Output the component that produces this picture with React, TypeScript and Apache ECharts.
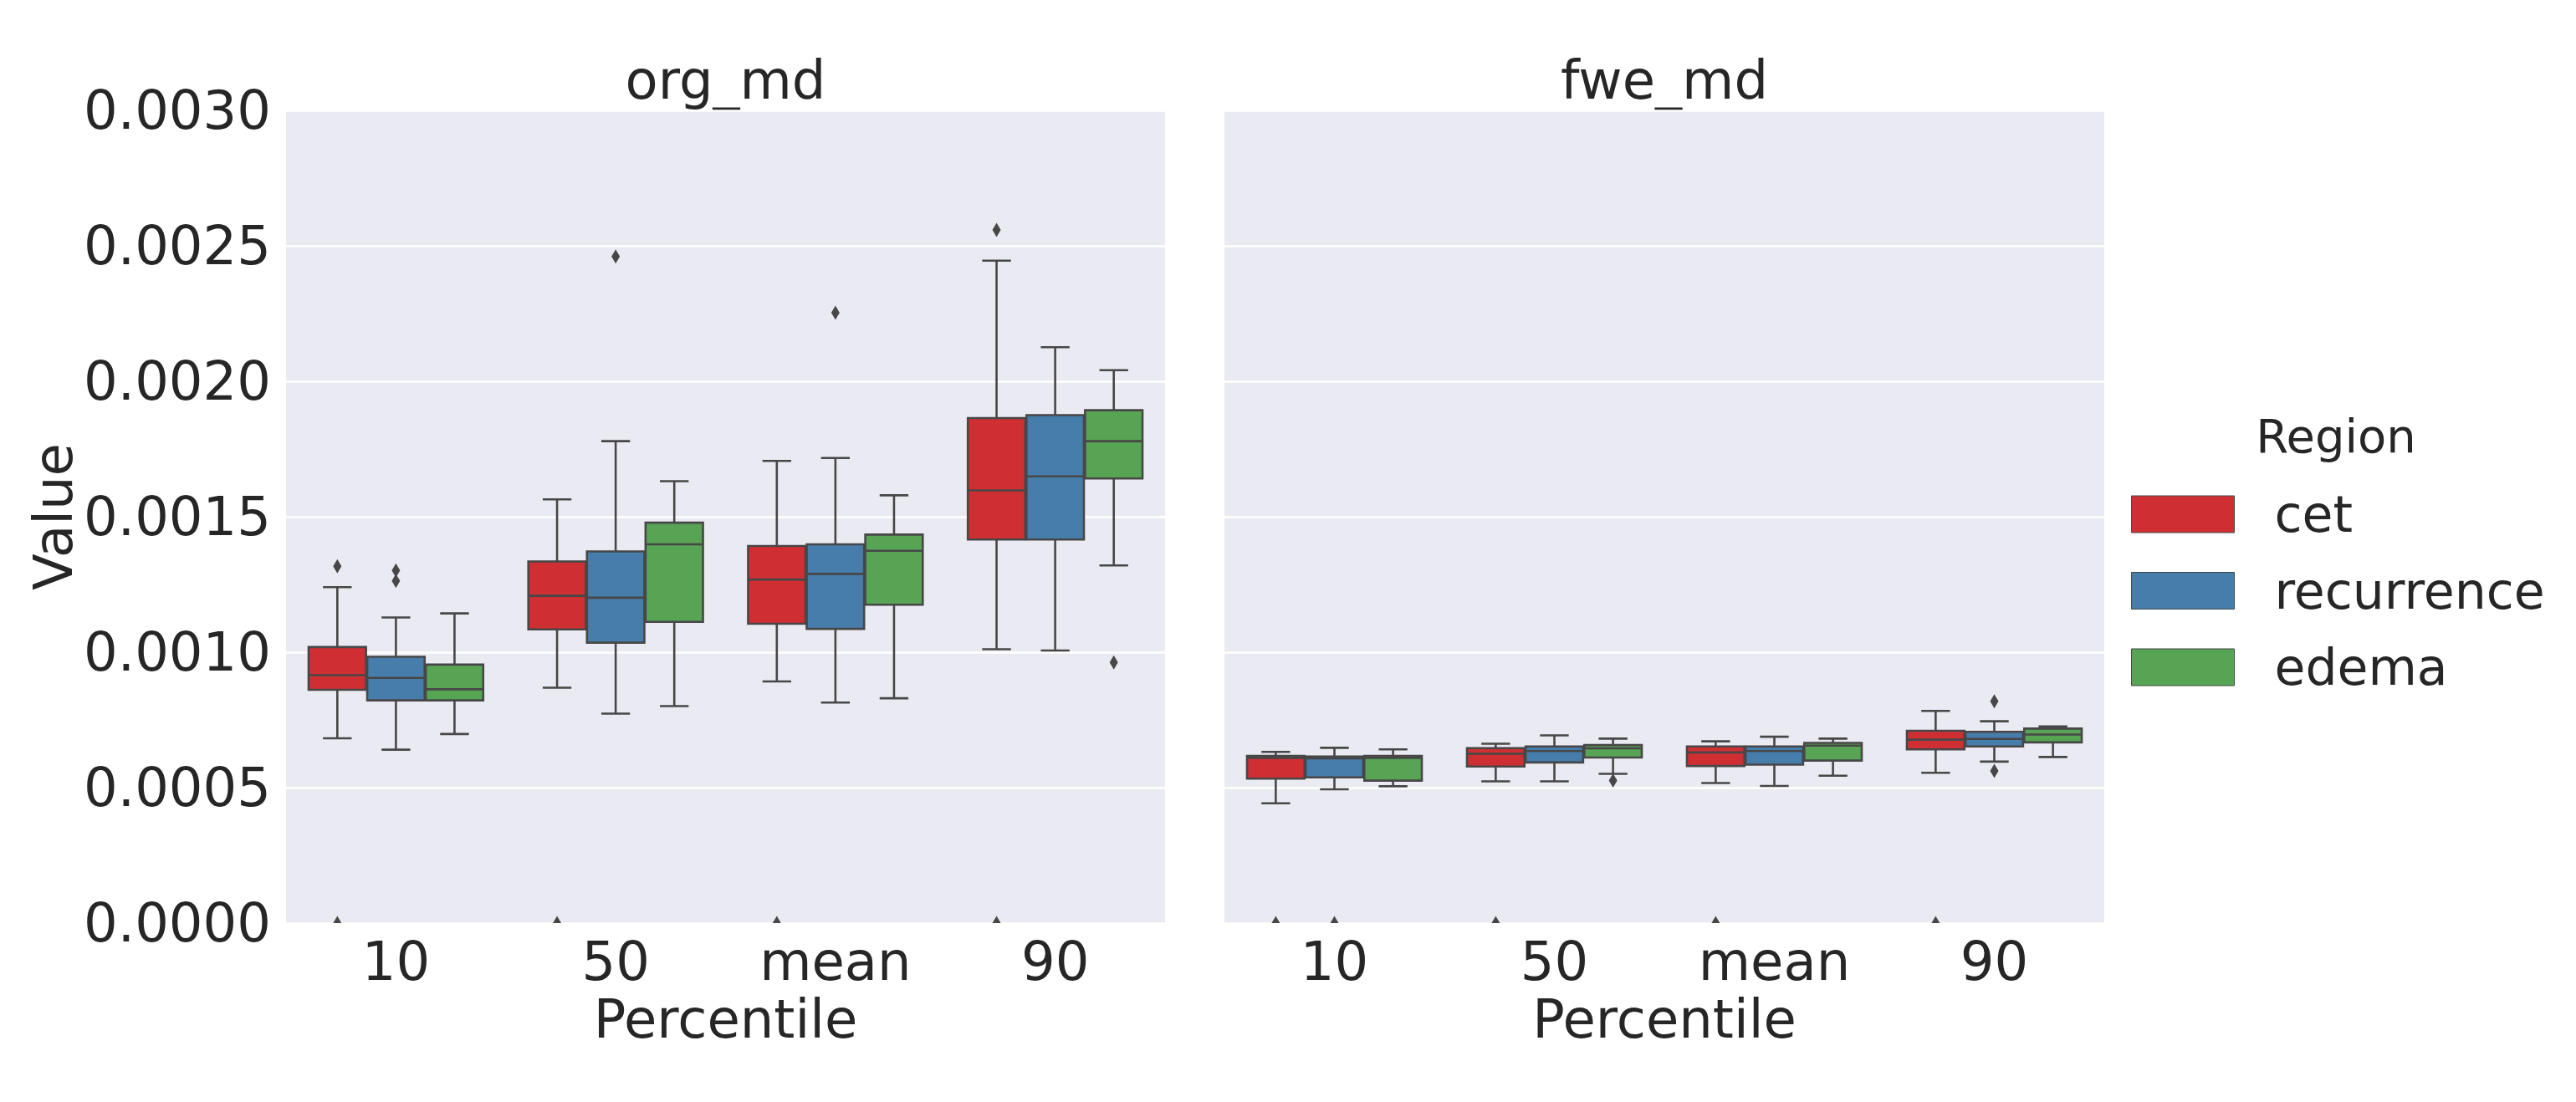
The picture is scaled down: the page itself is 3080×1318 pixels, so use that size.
import React, { useEffect, useRef } from 'react';
import * as echarts from 'echarts';

// ---------- data ----------
const categories = ['10', '50', 'mean', '90'];
const regions = ['cet', 'recurrence', 'edema'];
const regionColors = ['#cf2f33', '#467dab', '#57a455'];
const panelTitles = ['org_md', 'fwe_md'];

// org_md panel (per category: 10, 50, mean, 90)
const orgCetLow = [0.000682, 0.000869, 0.000892, 0.001011];
const orgCetQ1 = [0.000861, 0.001084, 0.001105, 0.001416];
const orgCetMed = [0.000915, 0.001208, 0.001268, 0.001597];
const orgCetQ3 = [0.001019, 0.001335, 0.001392, 0.001864];
const orgCetHigh = [0.00124, 0.001564, 0.001706, 0.002445];

const orgRecLow = [0.00064, 0.000773, 0.000814, 0.001006];
const orgRecQ1 = [0.000822, 0.001035, 0.001086, 0.001416];
const orgRecMed = [0.000905, 0.001201, 0.001289, 0.001649];
const orgRecQ3 = [0.000983, 0.001372, 0.001398, 0.001875];
const orgRecHigh = [0.001128, 0.001779, 0.001717, 0.002126];

const orgEdeLow = [0.000698, 0.000801, 0.00083, 0.00132];
const orgEdeQ1 = [0.000822, 0.001112, 0.001175, 0.001641];
const orgEdeMed = [0.000863, 0.001398, 0.001374, 0.001779];
const orgEdeQ3 = [0.000954, 0.001478, 0.001434, 0.001893];
const orgEdeHigh = [0.001143, 0.001631, 0.001579, 0.002041];

// fwe_md panel
const fweCetLow = [0.000442, 0.000523, 0.000517, 0.000555];
const fweCetQ1 = [0.000533, 0.000578, 0.00058, 0.000641];
const fweCetMed = [0.00061, 0.000625, 0.00063, 0.000677];
const fweCetQ3 = [0.000617, 0.000646, 0.000652, 0.00071];
const fweCetHigh = [0.000632, 0.000662, 0.000671, 0.000783];

const fweRecLow = [0.000494, 0.000523, 0.000506, 0.000596];
const fweRecQ1 = [0.000538, 0.000593, 0.000585, 0.000652];
const fweRecMed = [0.000608, 0.000635, 0.000635, 0.00068];
const fweRecQ3 = [0.000615, 0.000652, 0.000652, 0.000706];
const fweRecHigh = [0.000647, 0.000693, 0.000688, 0.000745];

const fweEdeLow = [0.000505, 0.000551, 0.000544, 0.000613];
const fweEdeQ1 = [0.000526, 0.000611, 0.0006, 0.000667];
const fweEdeMed = [0.00061, 0.000645, 0.000655, 0.000696];
const fweEdeQ3 = [0.000617, 0.000657, 0.000665, 0.000718];
const fweEdeHigh = [0.000641, 0.000681, 0.000681, 0.000726];

// outliers: [categoryIndex, value]
const orgCetOut = [[0, 0.001317], [0, 0], [1, 0], [2, 0], [3, 0.002559], [3, 0]];
const orgRecOut = [[0, 0.001302], [0, 0.001263], [1, 0.002461], [2, 0.002253]];
const orgEdeOut = [[3, 0.000962]];
const fweCetOut = [[0, 0], [1, 0], [2, 0], [3, 0]];
const fweRecOut = [[0, 0], [3, 0.000819], [3, 0.000562]];
const fweEdeOut = [[1, 0.000526]];

const yMin = 0;
const yMax = 0.003;
const yInterval = 0.0005;

// ---------- build ----------
const FONT = 'DejaVu Sans';
const TEXT = '#262626';
const LINE = '#474747';
const BG = '#EAEAF2';

const boxStats = [
  [
    [orgCetLow, orgCetQ1, orgCetMed, orgCetQ3, orgCetHigh],
    [orgRecLow, orgRecQ1, orgRecMed, orgRecQ3, orgRecHigh],
    [orgEdeLow, orgEdeQ1, orgEdeMed, orgEdeQ3, orgEdeHigh],
  ],
  [
    [fweCetLow, fweCetQ1, fweCetMed, fweCetQ3, fweCetHigh],
    [fweRecLow, fweRecQ1, fweRecMed, fweRecQ3, fweRecHigh],
    [fweEdeLow, fweEdeQ1, fweEdeMed, fweEdeQ3, fweEdeHigh],
  ],
];
const outliers = [
  [orgCetOut, orgRecOut, orgEdeOut],
  [fweCetOut, fweRecOut, fweEdeOut],
];

function boxRenderer(regionIdx: number, color: string) {
  return (params: any, api: any) => {
    const cat = api.value(0);
    const band = api.size([1, 0])[0];
    const slot = (band * 0.8) / 3;
    const bw = slot * 0.98;
    const cx = api.coord([cat, 0])[0] + (regionIdx - 1) * slot;
    const yLo = api.coord([cat, api.value(1)])[1];
    const yQ1 = api.coord([cat, api.value(2)])[1];
    const yMed = api.coord([cat, api.value(3)])[1];
    const yQ3 = api.coord([cat, api.value(4)])[1];
    const yHi = api.coord([cat, api.value(5)])[1];
    const lw = 2.6;
    const ls = { stroke: LINE, lineWidth: lw };
    const cap = bw / 4;
    return {
      type: 'group',
      children: [
        { type: 'line', shape: { x1: cx, y1: yQ3, x2: cx, y2: yHi }, style: ls },
        { type: 'line', shape: { x1: cx, y1: yQ1, x2: cx, y2: yLo }, style: ls },
        { type: 'line', shape: { x1: cx - cap, y1: yHi, x2: cx + cap, y2: yHi }, style: ls },
        { type: 'line', shape: { x1: cx - cap, y1: yLo, x2: cx + cap, y2: yLo }, style: ls },
        {
          type: 'rect',
          shape: { x: cx - bw / 2, y: yQ3, width: bw, height: yQ1 - yQ3 },
          style: { fill: color, stroke: LINE, lineWidth: lw },
        },
        { type: 'line', shape: { x1: cx - bw / 2, y1: yMed, x2: cx + bw / 2, y2: yMed }, style: ls },
      ],
    };
  };
}

function outlierRenderer(regionIdx: number) {
  return (params: any, api: any) => {
    const cat = api.value(0);
    const band = api.size([1, 0])[0];
    const slot = (band * 0.8) / 3;
    const p = api.coord([cat, api.value(1)]);
    const cx = p[0] + (regionIdx - 1) * slot;
    const cy = p[1];
    const hw = 5;
    const hh = 8.5;
    return {
      type: 'polygon',
      shape: { points: [[cx, cy - hh], [cx + hw, cy], [cx, cy + hh], [cx - hw, cy]] },
      style: { fill: LINE },
    };
  };
}

function buildOption() {
  const grids = [
    { left: 342, top: 132, width: 1051, height: 972 },
    { left: 1464, top: 132, width: 1052, height: 972 },
  ].map((g) => ({ ...g, show: true, backgroundColor: BG, borderWidth: 0, containLabel: false }));

  const xAxes = [0, 1].map((i) => ({
    type: 'category',
    gridIndex: i,
    data: categories,
    axisLine: { show: false },
    axisTick: { show: false },
    splitLine: { show: false },
    axisLabel: { fontSize: 64, color: TEXT, fontFamily: FONT, margin: 14 },
    name: 'Percentile',
    nameLocation: 'middle',
    nameGap: 81,
    nameTextStyle: { fontSize: 64, color: TEXT, fontFamily: FONT },
  }));

  const yAxes = [0, 1].map((i) => ({
    type: 'value',
    gridIndex: i,
    min: yMin,
    max: yMax,
    interval: yInterval,
    axisLine: { show: false },
    axisTick: { show: false },
    splitLine: { show: true, lineStyle: { color: '#ffffff', width: 2.5 } },
    axisLabel: {
      show: i === 0,
      fontSize: 64,
      color: TEXT,
      fontFamily: FONT,
      margin: 18,
      formatter: (v: number) => v.toFixed(4),
    },
    name: i === 0 ? 'Value' : '',
    nameLocation: 'middle',
    nameRotate: 90,
    nameGap: 234,
    nameTextStyle: { fontSize: 64, color: TEXT, fontFamily: FONT },
  }));

  const series: any[] = [];
  [0, 1].forEach((p) => {
    regions.forEach((name, r) => {
      const st = boxStats[p][r];
      series.push({
        type: 'custom',
        name,
        xAxisIndex: p,
        yAxisIndex: p,
        itemStyle: { color: regionColors[r], borderColor: LINE },
        encode: { x: 0, y: [1, 2, 3, 4, 5] },
        renderItem: boxRenderer(r, regionColors[r]),
        data: categories.map((_, i) => [i, st[0][i], st[1][i], st[2][i], st[3][i], st[4][i]]),
        z: 2,
      });
      series.push({
        type: 'custom',
        name,
        xAxisIndex: p,
        yAxisIndex: p,
        clip: true,
        itemStyle: { color: regionColors[r] },
        encode: { x: 0, y: 1 },
        renderItem: outlierRenderer(r),
        data: outliers[p][r],
        z: 3,
      });
    });
  });

  return {
    animation: false,
    grid: grids,
    xAxis: xAxes,
    yAxis: yAxes,
    series,
    legend: {
      orient: 'vertical',
      left: 2543,
      top: 580,
      icon: 'rect',
      itemWidth: 123,
      itemHeight: 44,
      itemGap: 31.5,
      data: regions.map((name, r) => ({
        name,
        itemStyle: { color: regionColors[r], borderColor: LINE, borderWidth: 1 },
      })),
      textStyle: { fontSize: 60, lineHeight: 60, color: TEXT, fontFamily: FONT, padding: [0, 0, 0, 43] },
    },
    graphic: [
      {
        type: 'text',
        x: 867.5,
        y: 96,
        style: { text: panelTitles[0], fontSize: 64, fill: TEXT, fontFamily: FONT, align: 'center', verticalAlign: 'middle' },
      },
      {
        type: 'text',
        x: 1990,
        y: 96,
        style: { text: panelTitles[1], fontSize: 64, fill: TEXT, fontFamily: FONT, align: 'center', verticalAlign: 'middle' },
      },
      {
        type: 'text',
        x: 2793,
        y: 521,
        style: { text: 'Region', fontSize: 56, fill: TEXT, fontFamily: FONT, align: 'center', verticalAlign: 'middle' },
      },
    ],
  };
}

export default function App() {
  const ref = useRef<HTMLDivElement>(null);
  useEffect(() => {
    document.body.style.margin = '0';
    if (!ref.current) return;
    const chart = echarts.init(ref.current, undefined, { renderer: 'svg' });
    chart.setOption(buildOption() as any);
    return () => chart.dispose();
  }, []);
  return <div ref={ref} style={{ width: 3080, height: 1318, background: '#ffffff' }} />;
}
